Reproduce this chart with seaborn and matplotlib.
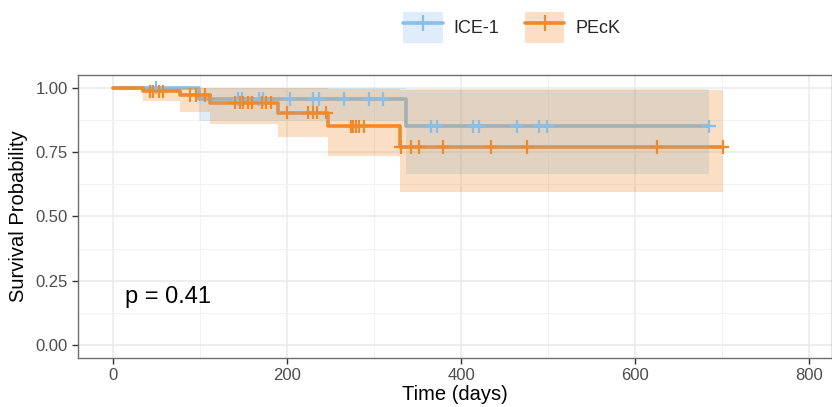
import numpy as np
import pandas as pd
import seaborn as sns
import matplotlib.pyplot as plt
from matplotlib.patches import Patch
from matplotlib.lines import Line2D
from matplotlib.ticker import MultipleLocator, FormatStrFormatter

# step values (time in days)
ice_time = [0, 99, 337, 685]
ice_surv = [1.0, 0.957, 0.85, 0.85]
ice_lower = [1.0, 0.873, 0.664, 0.664]
ice_upper = [1.0, 1.0, 0.997, 0.997]
ice_censor = [49, 144, 148, 168, 173, 203, 230, 237, 265, 294, 310,
              366, 372, 414, 421, 464, 490, 499, 685]

peck_time = [0, 35, 77, 112, 190, 247, 330, 701]
peck_surv = [1.0, 0.986, 0.972, 0.943, 0.903, 0.85, 0.77, 0.77]
peck_lower = [1.0, 0.95, 0.905, 0.86, 0.808, 0.737, 0.595, 0.595]
peck_upper = [1.0, 1.0, 1.0, 1.0, 1.0, 0.996, 0.99, 0.99]
peck_censor = [42, 46, 53, 57, 88, 95, 106, 140, 146, 150, 155, 160, 171,
               176, 182, 200, 224, 230, 234, 245, 274, 276, 279, 283, 288,
               331, 343, 352, 379, 434, 476, 625, 701]

groups = ['ICE-1', 'PEcK']
colors = {'ICE-1': '#86BFEA', 'PEcK': '#EE8A2B'}
p_text = 'p = 0.41'

curves = {
    'ICE-1': (ice_time, ice_surv, ice_lower, ice_upper, ice_censor),
    'PEcK': (peck_time, peck_surv, peck_lower, peck_upper, peck_censor),
}

steps_df = pd.concat([
    pd.DataFrame({'time': c[0], 'surv': c[1], 'group': g}) for g, c in curves.items()
])
cens_rows = []
for g, c in curves.items():
    t = np.array(c[0])
    s = np.array(c[1])
    for ct in c[4]:
        cens_rows.append({'time': ct, 'surv': s[np.searchsorted(t, ct, side='right') - 1], 'group': g})
cens_df = pd.DataFrame(cens_rows)

sns.set_theme(style='white')
plt.rcParams['font.family'] = ['Liberation Sans', 'DejaVu Sans']

fig = plt.figure(figsize=(8.32, 4.07), dpi=100)
ax = fig.add_axes([78 / 832, 1 - 358 / 407, (832 - 78) / 832, (358 - 75) / 407])

sns.lineplot(data=steps_df, x='time', y='surv', hue='group', palette=colors,
             drawstyle='steps-post', estimator=None, linewidth=2.6, legend=False,
             ax=ax, zorder=2)
fill_alpha = {'ICE-1': 0.27, 'PEcK': 0.27}
for g in groups:
    t, s, lo, hi, _ = curves[g]
    ax.fill_between(t, lo, hi, step='post', color=colors[g], alpha=fill_alpha[g],
                    linewidth=0, zorder=3)
sns.scatterplot(data=cens_df, x='time', y='surv', hue='group', palette=colors,
                marker='+', s=90, linewidth=1.6, legend=False, ax=ax, zorder=4)

ax.set_xlim(-40.2, 826.4)
ax.set_ylim(-0.05, 1.05)
ax.xaxis.set_major_locator(MultipleLocator(200))
ax.xaxis.set_minor_locator(MultipleLocator(100))
ax.yaxis.set_major_locator(MultipleLocator(0.25))
ax.yaxis.set_minor_locator(MultipleLocator(0.125))
ax.yaxis.set_major_formatter(FormatStrFormatter('%.2f'))
ax.grid(which='major', color='#EBEBEB', linewidth=1.2, zorder=0)
ax.grid(which='minor', color='#F2F2F2', linewidth=0.7, zorder=0)
ax.set_axisbelow(True)
for sp in ax.spines.values():
    sp.set_color('#6E6E6E')
    sp.set_linewidth(1.0)
ax.tick_params(which='major', length=4, width=1, color='#333333',
               labelsize=12, labelcolor='#4D4D4D', left=True, bottom=True)
ax.tick_params(which='minor', length=0)

ax.set_xlabel('Time (days)', fontsize=14.5, color='black', labelpad=1)
ax.set_ylabel('Survival Probability', fontsize=14.5, color='black', labelpad=5)
ax.text(14, 0.186, p_text, fontsize=17, ha='left', va='center', color='black')

handles = [(Patch(facecolor=colors[g], alpha=0.27, edgecolor='none'),
            Line2D([], [], color=colors[g], linewidth=2.6, marker='+',
                   markersize=11, markeredgewidth=1.6)) for g in groups]
fig.legend(handles, groups, loc='center', bbox_to_anchor=(0.615, 0.932), ncol=2,
           frameon=False, fontsize=13, handlelength=2.2, handleheight=2.3,
           columnspacing=1.4, handletextpad=0.6)

fig.savefig('out.png', dpi=100)
